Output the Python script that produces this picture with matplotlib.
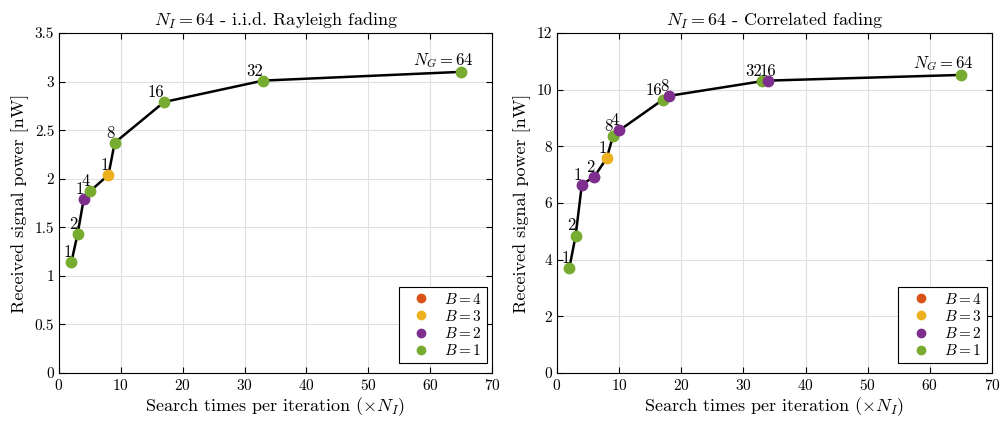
import matplotlib
matplotlib.use('Agg')
import matplotlib.pyplot as plt

# Data: left panel (i.i.d. Rayleigh fading)
iid_x = [2, 3, 4, 5, 8, 9, 17, 33, 65]
iid_y = [1.14, 1.43, 1.79, 1.87, 2.04, 2.37, 2.79, 3.01, 3.10]
iid_B = [1, 1, 2, 1, 3, 1, 1, 1, 1]
iid_lbl = ['1', '2', '1', '4', '1', '8', '16', '32', '$N_G = 64$']

# Data: right panel (correlated fading)
cor_x = [2, 3, 4, 6, 8, 9, 10, 17, 18, 33, 34, 65]
cor_y = [3.72, 4.85, 6.65, 6.93, 7.58, 8.35, 8.56, 9.64, 9.78, 10.30, 10.32, 10.52]
cor_B = [1, 1, 2, 2, 3, 1, 2, 1, 2, 1, 2, 1]
cor_lbl = ['1', '2', '1', '2', '1', '8', '4', '16', '8', '32', '16', '$N_G = 64$']

B_COLORS = {4: '#D95319', 3: '#EDB120', 2: '#7E2F8E', 1: '#77AC30'}

plt.rcParams['font.family'] = 'serif'
plt.rcParams['font.serif'] = ['cmr10', 'DejaVu Serif']
plt.rcParams['mathtext.fontset'] = 'cm'
plt.rcParams['axes.formatter.use_mathtext'] = True

fig = plt.figure(figsize=(10.01, 4.22), dpi=100)
ax1 = fig.add_axes([59/1001, 49/422, 433/1001, 340/422])
ax2 = fig.add_axes([557/1001, 49/422, 435/1001, 340/422])


def panel(ax, xs, ys, bs, labels, title, ylim, yticks, yticklabels, shifts):
    ax.plot(xs, ys, '-', color='k', lw=1.8, zorder=2)
    for x, y, b in zip(xs, ys, bs):
        ax.plot(x, y, 'o', color=B_COLORS[b], ms=7.5, zorder=3)
    for i, (x, y, s) in enumerate(zip(xs, ys, labels)):
        dx = shifts.get(i, 0)
        ax.annotate(s, (x, y), xytext=(dx, 1.5), textcoords='offset points',
                    ha='right', va='bottom', fontsize=12)
    handles = []
    for b in [4, 3, 2, 1]:
        h, = ax.plot([], [], 'o', color=B_COLORS[b], ms=6, label='$B = %d$' % b)
        handles.append(h)
    leg = ax.legend(handles=handles, loc='lower right', fontsize=11,
                    bbox_to_anchor=(1 - 5/433, 10/340), borderaxespad=0,
                    fancybox=False, edgecolor='k', framealpha=1,
                    handlelength=2.35, handletextpad=0.35, borderpad=0.3,
                    labelspacing=0.15)
    leg.get_frame().set_linewidth(0.8)
    ax.set_xlim(0, 70)
    ax.set_ylim(*ylim)
    ax.set_xticks(range(0, 71, 10))
    ax.set_yticks(yticks)
    ax.set_yticklabels(yticklabels)
    ax.grid(True, color='#e0e0e0', lw=0.8)
    ax.set_axisbelow(True)
    ax.tick_params(direction='in', top=True, right=True, labelsize=11, length=4)
    for sp in ax.spines.values():
        sp.set_linewidth(0.8)
    ax.set_xlabel(r'Search times per iteration ($\times N_I$)', fontsize=13, labelpad=2)
    ax.set_ylabel('Received signal power [nW]', fontsize=13, labelpad=4)
    ax.set_title(title, fontsize=13, pad=5)


panel(ax1, iid_x, iid_y, iid_B, iid_lbl, r'$N_I = 64$ - i.i.d. Rayleigh fading',
      (0, 3.5), [0, 0.5, 1, 1.5, 2, 2.5, 3, 3.5],
      ['0', '0.5', '1', '1.5', '2', '2.5', '3', '3.5'],
      {len(iid_x) - 1: 9})
panel(ax2, cor_x, cor_y, cor_B, cor_lbl, r'$N_I = 64$ - Correlated fading',
      (0, 12), [0, 2, 4, 6, 8, 10, 12], ['0', '2', '4', '6', '8', '10', '12'],
      {10: 6, len(cor_x) - 1: 9})

fig.savefig('out.png', dpi=100)
